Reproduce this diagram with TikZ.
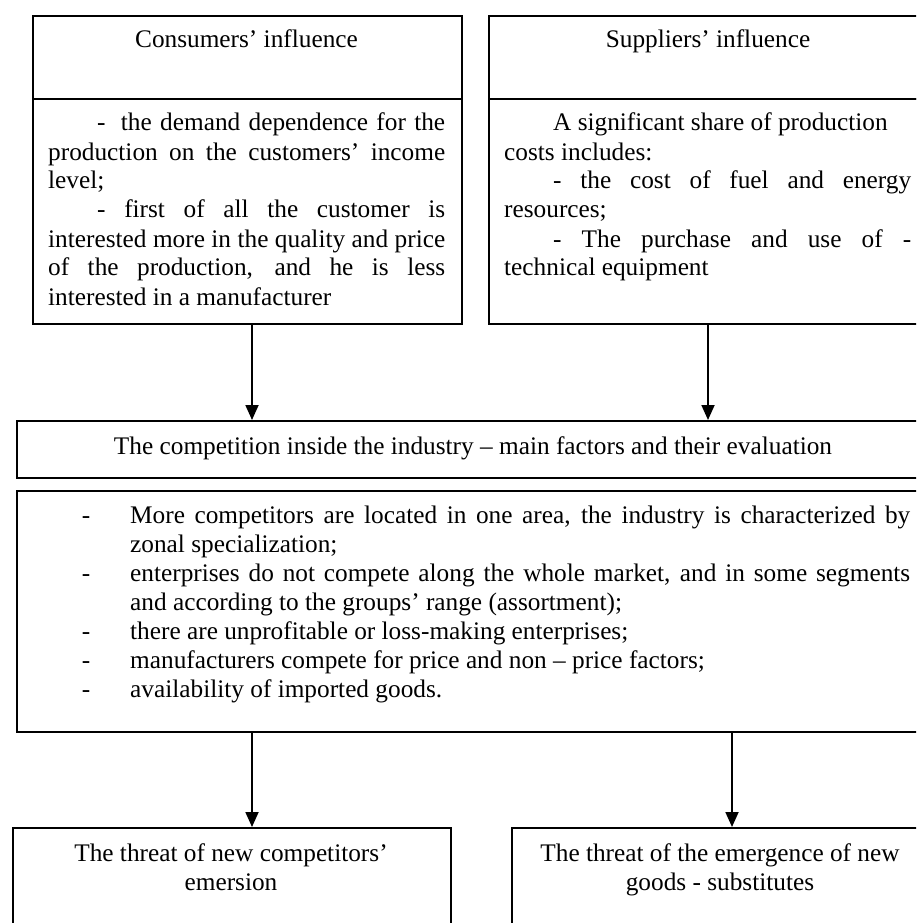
\documentclass[tikz,border=0pt]{standalone}
\usepackage{fontspec}
\setmainfont{Liberation Serif}
\usetikzlibrary{arrows.meta}
\newcommand\fs{\fontsize{25.3}{29}\selectfont}
\newcommand\dashitem{\par\leavevmode\llap{-\hspace{40pt}}}
\begin{document}
\begin{tikzpicture}[x=1pt,y=-1pt,
  box/.style={draw, line width=1.6pt, rectangle, inner sep=0pt, anchor=north west},
  arr/.style={line width=1.8pt, -{Triangle[length=15pt,width=13pt]}},
  txt/.style={inner sep=0pt, anchor=base west, font=\fs},
  ttl/.style={inner sep=0pt, anchor=base, font=\fs}]
\useasboundingbox (0,0) rectangle (916,923);
\clip (0,0) rectangle (916,923);
% boxes
\node[box, minimum width=429pt, minimum height=83pt]  (conshead) at (32,15) {};
\node[box, minimum width=429pt, minimum height=225pt] (consbody) at (32,98) {};
\node[box, minimum width=440pt, minimum height=83pt]  (supphead) at (488,15) {};
\node[box, minimum width=440pt, minimum height=225pt] (suppbody) at (488,98) {};
\node[box, minimum width=914pt, minimum height=57pt]  (comp)     at (16,420) {};
\node[box, minimum width=914pt, minimum height=241pt] (factors)  at (16,490) {};
\node[box, minimum width=438pt, minimum height=130pt] (newcomp)  at (12,827) {};
\node[box, minimum width=418pt, minimum height=130pt] (subst)    at (511,827) {};
% texts
\node[ttl] (tcons) at (246.5,48) {Consumers’ influence};
\node[ttl] (tsupp) at (708,48) {Suppliers’ influence};
\node[txt] (bcons) at (48,131) {\parbox[t]{397pt}{\fs\parindent=49pt
-\hspace{7pt} the demand dependence for the\linebreak production on the customers’ income\linebreak level;\par
- first of all the customer is\linebreak interested more in the quality and price\linebreak of the production, and he is less\linebreak interested in a manufacturer}};
\node[txt] (bsupp) at (504,131) {\parbox[t]{407pt}{\fs\parindent=49pt
A significant share of production\\ costs includes:\par
- the cost of fuel and energy\linebreak resources;\par
- The purchase and use of -\linebreak technical equipment}};
\node[ttl] (tcomp) at (473,454) {The competition inside the industry – main factors and their evaluation};
\node[txt] (bfact) at (130,523) {\parbox[t]{780pt}{\fs\parindent=0pt
\leavevmode\llap{-\hspace{40pt}}More competitors are located in one area, the industry is characterized by\linebreak zonal specialization;%
\dashitem enterprises do not compete along the whole market, and in some segments\linebreak and according to the groups’ range (assortment);%
\dashitem there are unprofitable or loss-making enterprises;%
\dashitem manufacturers compete for price and non – price factors;%
\dashitem availability of imported goods.}};
\node[txt, anchor=base] (tnew) at (231,861) {\parbox[t]{420pt}{\centering\fs The threat of new competitors’\\ emersion}};
\node[txt, anchor=base] (tsub) at (720,861) {\parbox[t]{410pt}{\centering\fs The threat of the emergence of new\\ goods - substitutes}};
% arrows
\coordinate (xa) at (252,0);
\coordinate (xb) at (708,0);
\coordinate (xc) at (732,0);
\draw[arr] (consbody.south -| xa) -- (comp.north -| xa);
\draw[arr] (suppbody.south -| xb) -- (comp.north -| xb);
\draw[arr] (factors.south -| xa) -- (newcomp.north -| xa);
\draw[arr] (factors.south -| xc) -- (subst.north -| xc);
\end{tikzpicture}
\end{document}
